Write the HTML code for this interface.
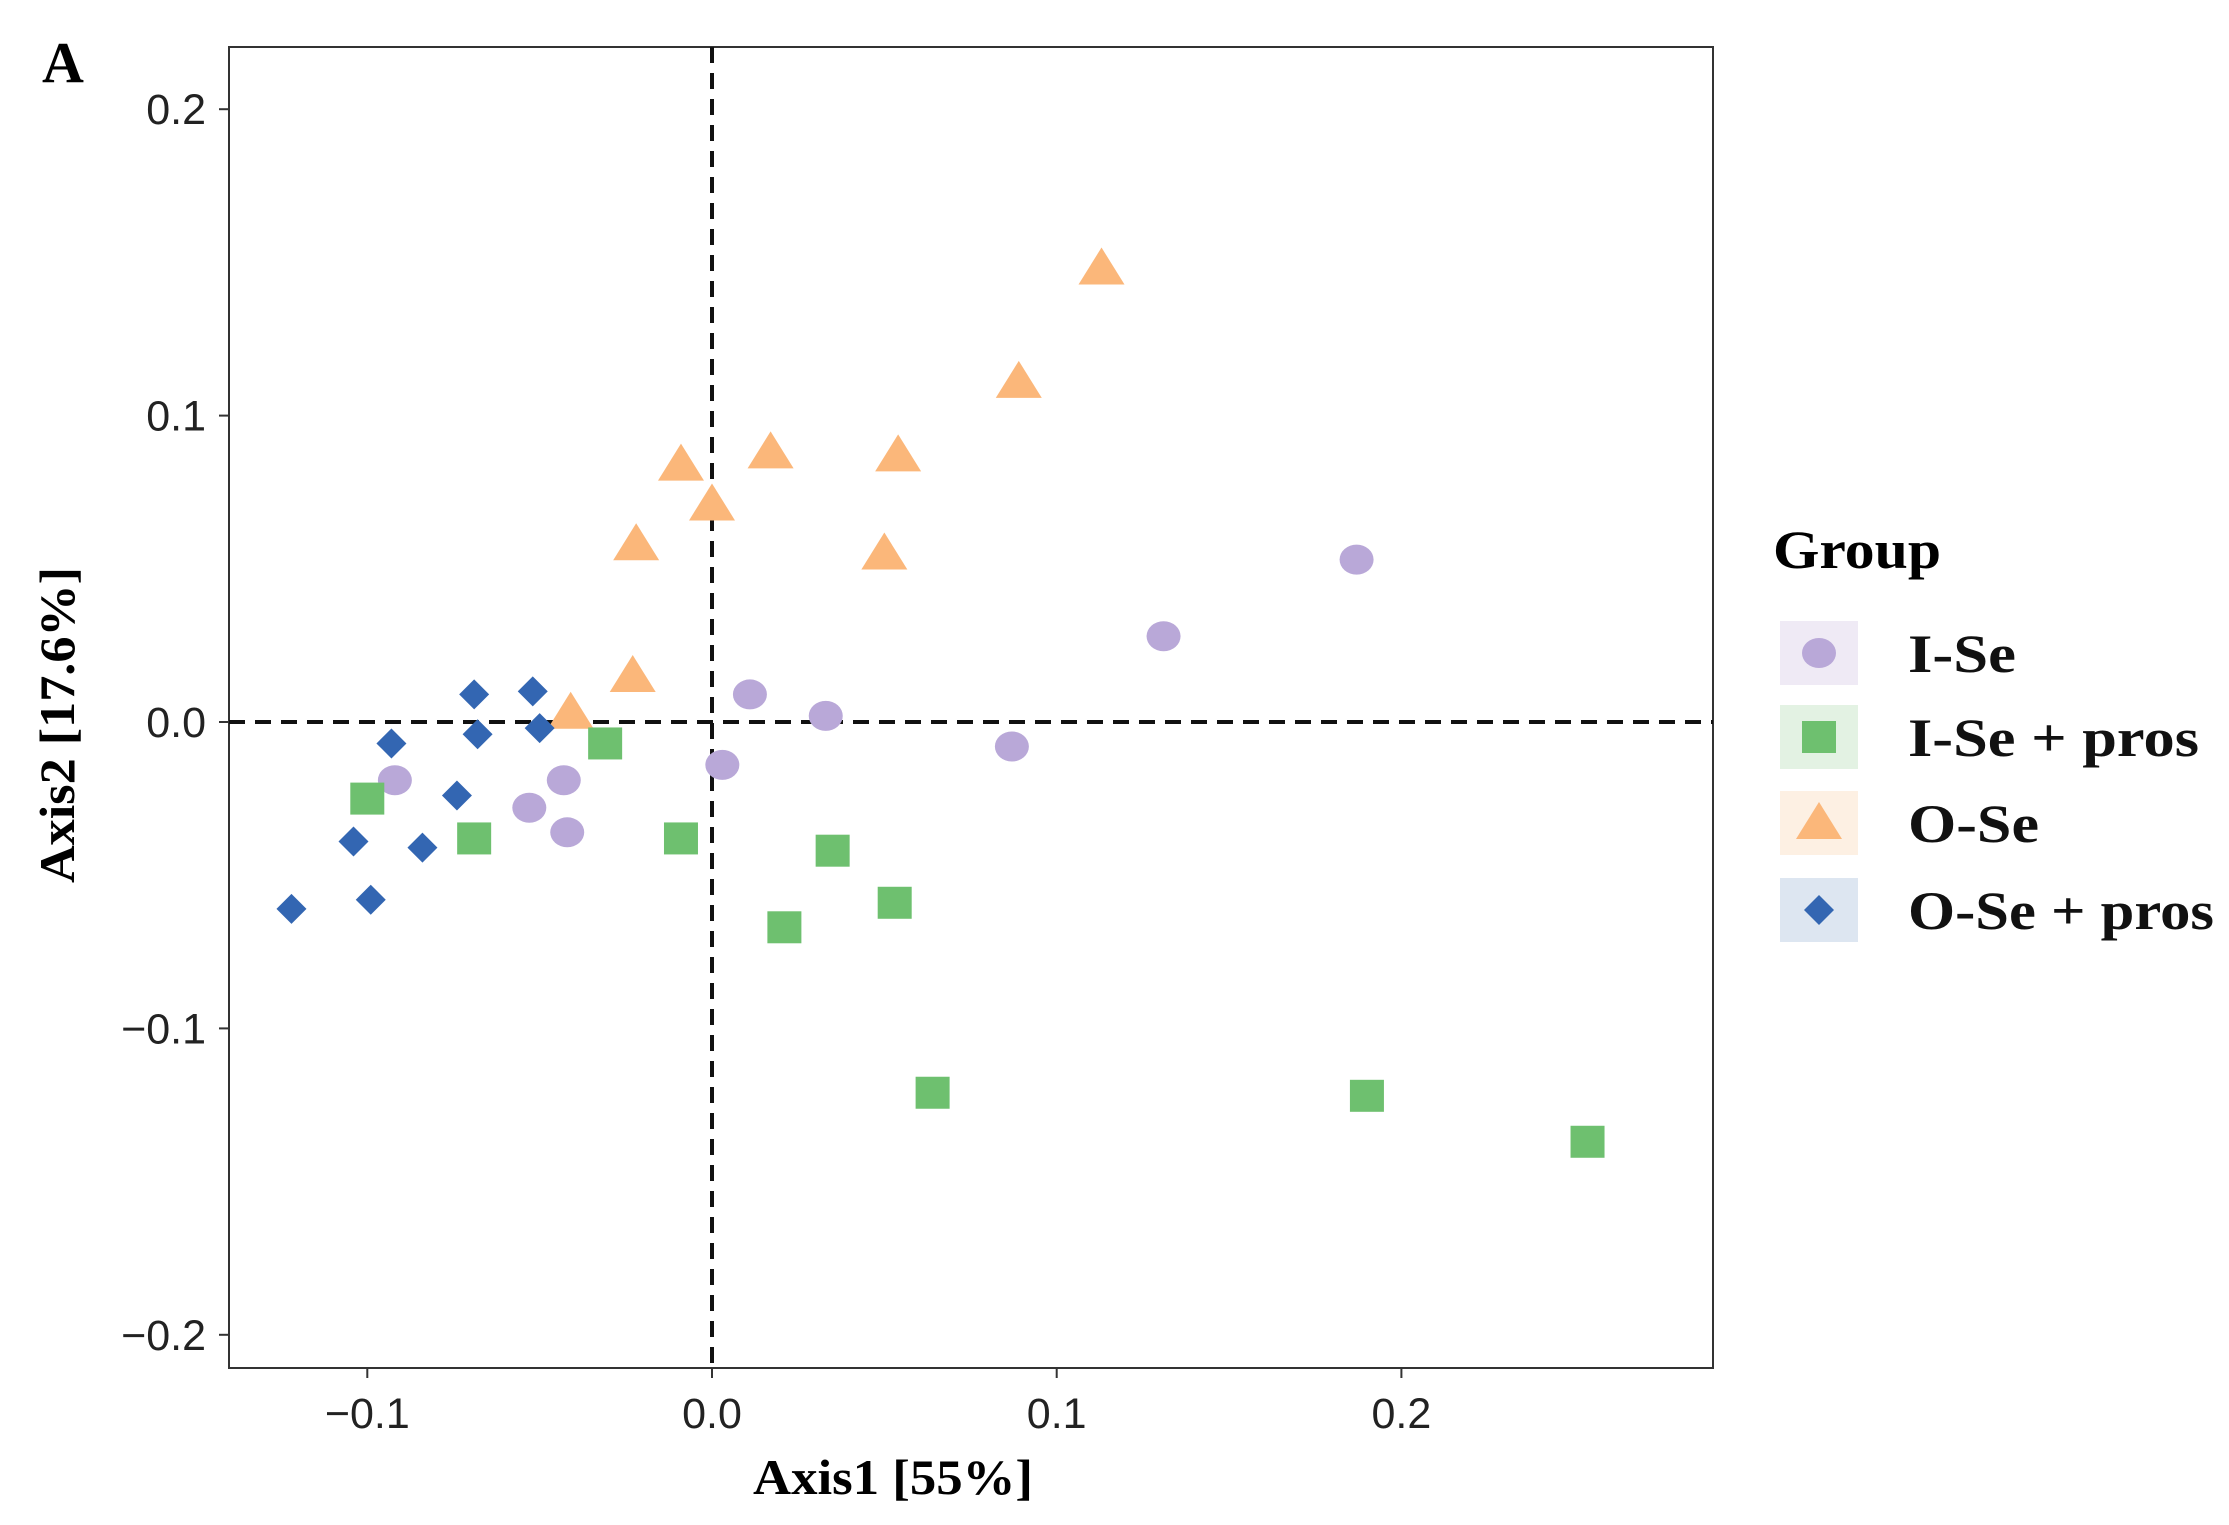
<!DOCTYPE html>
<html><head><meta charset="utf-8">
<style>
html,body{margin:0;padding:0;background:#fff;}
svg{display:block;}
</style></head>
<body>
<svg id="chart" width="2229" height="1525" viewBox="0 0 2229 1525" xmlns="http://www.w3.org/2000/svg">
<rect x="0" y="0" width="2229" height="1525" fill="#fff"/>
<text x="42" y="82" font-family="Liberation Serif, serif" font-weight="bold" font-size="58">A</text>
<g id="plot"></g>
<text x="893" y="1494" text-anchor="middle" font-family="Liberation Serif, serif" font-weight="bold" font-size="50" textLength="280" lengthAdjust="spacingAndGlyphs">Axis1 [55%]</text>
<text transform="translate(74,725) rotate(-90)" text-anchor="middle" font-family="Liberation Serif, serif" font-weight="bold" font-size="50" textLength="316" lengthAdjust="spacingAndGlyphs">Axis2 [17.6%]</text>
<g id="legend">
<text x="1773" y="568" font-family="Liberation Serif, serif" font-weight="bold" font-size="54" textLength="168" lengthAdjust="spacingAndGlyphs">Group</text>
</g>
</svg>
<script>
const isX=[0.187,0.131,0.011,0.033,0.003,0.087,-0.092,-0.043,-0.053,-0.042];
const isY=[0.053,0.028,0.009,0.002,-0.014,-0.008,-0.019,-0.019,-0.028,-0.036];
const ispX=[-0.100,-0.069,-0.031,-0.009,0.035,0.053,0.021,0.064,0.190,0.254];
const ispY=[-0.025,-0.038,-0.007,-0.038,-0.042,-0.059,-0.067,-0.121,-0.122,-0.137];
const osX=[0.113,0.089,-0.009,0.017,0.054,0.000,-0.022,0.050,-0.023,-0.041];
const osY=[0.148,0.111,0.084,0.088,0.087,0.071,0.058,0.055,0.015,0.003];
const ospX=[-0.122,-0.104,-0.099,-0.093,-0.084,-0.074,-0.069,-0.068,-0.052,-0.050];
const ospY=[-0.061,-0.039,-0.058,-0.007,-0.041,-0.024,0.009,-0.004,0.010,-0.002];
const xTicks=[-0.1,0.0,0.1,0.2];
const xTickLabels=["\u22120.1","0.0","0.1","0.2"];
const yTicks=[-0.2,-0.1,0.0,0.1,0.2];
const yTickLabels=["\u22120.2","\u22120.1","0.0","0.1","0.2"];
const groups=["I-Se","I-Se + pros","O-Se","O-Se + pros"];
const groupLabelLen=[108,291,131,306];

const NS="http://www.w3.org/2000/svg";
const L=229,R=1713,T=47,B=1368;
const sx=v=>712+v*3447;
const sy=v=>722-v*3064;
const plot=document.getElementById('plot');
function mk(tag,attrs,parent){const e=document.createElementNS(NS,tag);for(const k in attrs)e.setAttribute(k,attrs[k]);(parent||plot).appendChild(e);return e;}

let fr=mk('rect',{x:L,y:T,width:R-L,height:B-T,fill:'none',stroke:'#333',"stroke-width":2});


xTicks.forEach((t,i)=>{
  let ln=mk('line',{x1:sx(t),x2:sx(t),y1:B,y2:B+10,stroke:'#333',"stroke-width":2});
  
  
  let tx=mk('text',{x:sx(t),y:1428,"text-anchor":"middle","font-family":"Liberation Sans, sans-serif","font-size":43,fill:'#222'});
  tx.textContent=xTickLabels[i];
  
  
});
yTicks.forEach((t,i)=>{
  let ln=mk('line',{x1:L-10,x2:L,y1:sy(t),y2:sy(t),stroke:'#333',"stroke-width":2});
  
  
  let tx=mk('text',{x:206,y:sy(t)+15,"text-anchor":"end","font-family":"Liberation Sans, sans-serif","font-size":43,fill:'#222'});
  tx.textContent=yTickLabels[i];
  
  
});
let hz=mk('line',{x1:L,x2:R,y1:sy(0),y2:sy(0),stroke:'#111',"stroke-width":4,"stroke-dasharray":"16,10"});


let vz=mk('line',{x1:sx(0),x2:sx(0),y1:T,y2:B,stroke:'#111',"stroke-width":4,"stroke-dasharray":"16,10"});



const C={is:'#b9a8d8',isp:'#6ec06f',os:'#fbb77a',osp:'#3366b2'};
function circle(x,y,p,op){return mk('ellipse',{cx:x,cy:y,rx:17,ry:15,fill:C.is,opacity:op||1},p);}
function square(x,y,p,op){return mk('rect',{x:x-17,y:y-16,width:34,height:32,fill:C.isp,opacity:op||1},p);}
function tri(x,y,p,op){return mk('polygon',{points:`${x},${y-21} ${x-23},${y+16} ${x+23},${y+16}`,fill:C.os,opacity:op||1},p);}
function diamond(x,y,p,op,s){s=s||15;return mk('polygon',{points:`${x},${y-s} ${x+s},${y} ${x},${y+s} ${x-s},${y}`,fill:C.osp,opacity:op||1},p);}

osX.forEach((v,i)=>{let e=tri(sx(v),sy(osY[i]));

});
isX.forEach((v,i)=>{let e=circle(sx(v),sy(isY[i]));

});
ispX.forEach((v,i)=>{let e=square(sx(v),sy(ispY[i]));

});
ospX.forEach((v,i)=>{let e=diamond(sx(v),sy(ospY[i]));

});

const lg=document.getElementById('legend');
const keyY=[653,737,823,910];
const keyBg=['#efeaf5','#e3f2e3','#fdf0e3','#dde6f1'];
const fns=[circle,square,tri,diamond];
groups.forEach((g,i)=>{
  let bg=mk('rect',{x:1780,y:keyY[i]-32,width:78,height:64,fill:keyBg[i]},lg);
  
  
  let m=fns[i](1819,keyY[i],lg);
  
  
  let t=mk('text',{x:1908,y:keyY[i]+19,"font-family":"Liberation Serif, serif","font-weight":"bold","font-size":54,fill:'#111',textLength:groupLabelLen[i],lengthAdjust:'spacingAndGlyphs'},lg);
  t.textContent=g;
  
  
});
</script>
</body></html>
